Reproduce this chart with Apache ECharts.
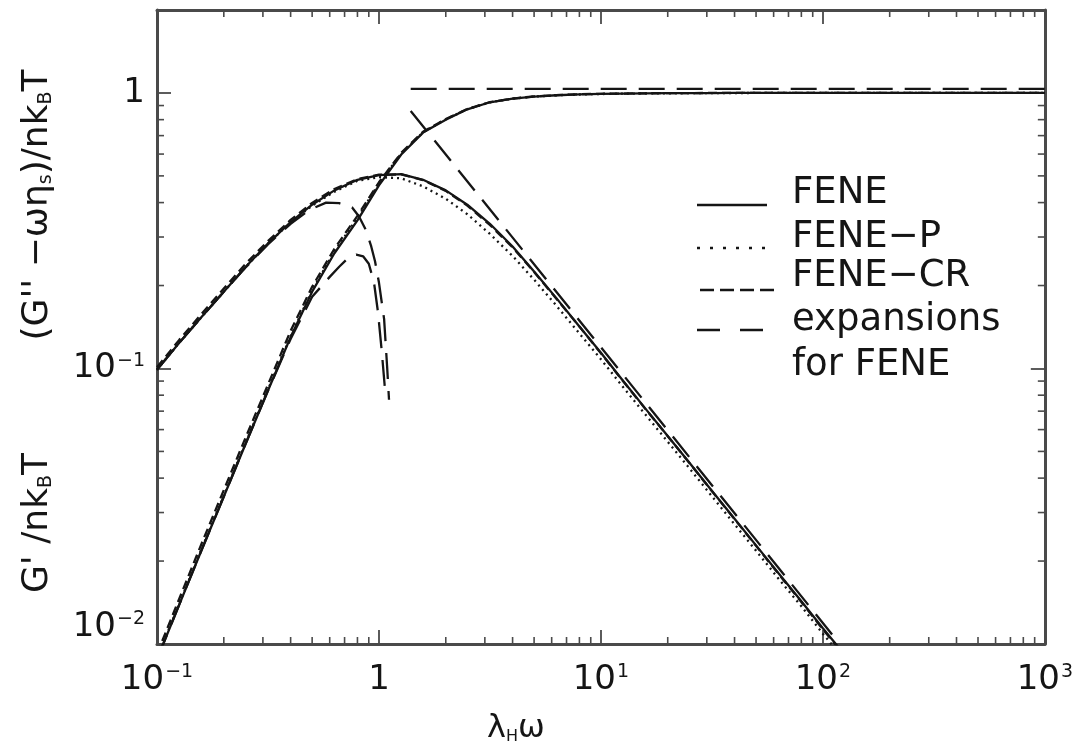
<!DOCTYPE html>
<html>
<head>
<meta charset="utf-8">
<script src="https://cdn.jsdelivr.net/npm/echarts@6/dist/echarts.min.js"></script>
<style>
  html, body { margin: 0; padding: 0; background: #fff; }
  #chart { width: 1076px; height: 749px; }
</style>
</head>
<body>
<div id="chart"></div>
<script>
// Reduced frequency λ_H ω shared by the model curves
const freq = [0.1, 0.126, 0.158, 0.2, 0.25, 0.316, 0.4, 0.5, 0.63, 0.8, 1, 1.26, 1.58, 2, 2.5, 3.16, 4, 5, 6.3, 8,
              10, 12.6, 15.8, 20, 25, 31.6, 40, 50, 63, 80, 100, 126, 158, 200, 316, 500, 1000];

// Storage modulus G'/nkT
const gpFENE   = [0.0088, 0.0139, 0.0217, 0.0343, 0.053, 0.083, 0.13, 0.19, 0.262, 0.345, 0.462, 0.598, 0.718, 0.8, 0.872, 0.925, 0.953, 0.97, 0.981, 0.988,
                  0.992, 0.995, 0.997, 0.998, 0.999, 0.999, 1, 1, 1, 1, 1, 1, 1, 1, 1, 1, 1];
const gpFENEP  = [0.0089, 0.014, 0.0219, 0.0346, 0.0535, 0.0838, 0.131, 0.192, 0.266, 0.352, 0.47, 0.603, 0.72, 0.802, 0.873, 0.925, 0.953, 0.97, 0.98, 0.987,
                  0.991, 0.994, 0.996, 0.997, 0.998, 0.999, 0.999, 1, 1, 1, 1, 1, 1, 1, 1, 1, 1];
const gpFENECR = [0.0092, 0.0146, 0.0229, 0.0362, 0.0558, 0.0872, 0.137, 0.198, 0.272, 0.358, 0.474, 0.606, 0.723, 0.804, 0.874, 0.926, 0.954, 0.971, 0.982, 0.989,
                  0.993, 0.995, 0.997, 0.998, 0.999, 1, 1, 1, 1, 1, 1, 1, 1, 1, 1, 1, 1];

// Loss modulus (G'' - ω η_s)/nkT
const gppFENE   = [0.099, 0.124, 0.153, 0.19, 0.233, 0.284, 0.34, 0.393, 0.443, 0.484, 0.503, 0.507, 0.484, 0.443, 0.393, 0.335, 0.277, 0.225, 0.18, 0.142,
                   0.114, 0.09, 0.0718, 0.0569, 0.0456, 0.036, 0.0285, 0.0228, 0.0181, 0.0143, 0.0114, 0.0091, 0.0072];
const gppFENEP  = [0.099, 0.124, 0.153, 0.19, 0.233, 0.284, 0.339, 0.39, 0.438, 0.48, 0.495, 0.49, 0.458, 0.413, 0.363, 0.308, 0.256, 0.21, 0.169, 0.134,
                   0.108, 0.0855, 0.0683, 0.0542, 0.0435, 0.0344, 0.0272, 0.0218, 0.0173, 0.0137, 0.0109, 0.0087, 0.0069];
const gppFENECR = [0.101, 0.127, 0.157, 0.195, 0.239, 0.29, 0.346, 0.399, 0.448, 0.487, 0.505, 0.506, 0.483, 0.441, 0.39, 0.332, 0.275, 0.224, 0.179, 0.142,
                   0.1135, 0.0898, 0.0716, 0.0568, 0.0455, 0.0359, 0.0284, 0.0227, 0.018, 0.0142, 0.0113, 0.009, 0.0071];

// Low- and high-frequency expansions for FENE
const expGpLowX  = [0.1, 0.126, 0.158, 0.2, 0.25, 0.316, 0.4, 0.5, 0.6, 0.662, 0.72, 0.79, 0.85, 0.9, 0.95, 0.99, 1.03, 1.07];
const expGpLowY  = [0.0088, 0.0139, 0.0217, 0.0343, 0.053, 0.083, 0.128, 0.182, 0.215, 0.234, 0.25, 0.259, 0.255, 0.24, 0.205, 0.16, 0.115, 0.08];
const expGppLowX = [0.1, 0.126, 0.158, 0.2, 0.25, 0.316, 0.4, 0.485, 0.578, 0.662, 0.757, 0.813, 0.87, 0.92, 0.96, 1.0, 1.055, 1.088, 1.11];
const expGppLowY = [0.099, 0.124, 0.153, 0.19, 0.232, 0.282, 0.335, 0.376, 0.4, 0.398, 0.384, 0.356, 0.32, 0.28, 0.245, 0.205, 0.151, 0.102, 0.077];
const expGpHighX  = [1.39, 1000];
const expGpHighY  = [1.035, 1.035];
const expGppHighX = [1.39, 118];
const expGppHighY = [0.86, 0.0101];

// Axis tick labels
const xTickValues = [0.1, 1, 10, 100, 1000];
const xTickLabels = ['10{sup|−1}', '1', '10{sup|1}', '10{sup|2}', '10{sup|3}'];
const yTickValues = [0.01, 0.1, 1];
const yTickLabels = ['10{sup|−2}', '10{sup|−1}', '1'];

// Minor ticks at 2..9 within each decade
const minorX = [];
for (let d = -1; d < 3; d++) for (let m = 2; m <= 9; m++) minorX.push(m * Math.pow(10, d));
const minorY = [];
for (let d = -2; d < 0; d++) for (let m = 2; m <= 9; m++) minorY.push(m * Math.pow(10, d));

function pairs(xArr, yArr) {
  const out = [];
  for (let i = 0; i < yArr.length; i++) if (yArr[i] != null) out.push([xArr[i], yArr[i]]);
  return out;
}
function labelFor(values, labels) {
  return function (v) {
    for (let i = 0; i < values.length; i++) {
      if (Math.abs(Math.log10(v) - Math.log10(values[i])) < 1e-6) return labels[i];
    }
    return '';
  };
}

const FONT = 'DejaVu Sans';
const INK = '#151515';
const AXIS = '#4a4a4a';

const DOTTED = [2, 4];
const DASHED = [9, 5];
const LONGDASH = [26, 12];

function curve(name, data, dash, width) {
  return {
    name: name, type: 'line', data: data, showSymbol: false, symbol: 'none',
    silent: true, clip: true,
    lineStyle: { color: INK, width: width || 2.3, type: dash || 'solid' }
  };
}

const supStyle = { fontSize: 19, fontFamily: FONT, color: INK, verticalAlign: 'top', padding: [0, 0, 0, 1] };

const chart = echarts.init(document.getElementById('chart'), null, { renderer: 'canvas' });

const tickStyle = { stroke: AXIS, lineWidth: 1.6 };

chart.setOption({
  animation: false,
  backgroundColor: '#ffffff',
  grid: { left: 157, right: 27, top: 10, bottom: 105 },
  xAxis: [
    {
      type: 'log', logBase: 10, min: 0.1, max: 1000, position: 'bottom',
      axisLine: { lineStyle: { color: AXIS, width: 3 } },
      axisTick: { inside: true, length: 14, lineStyle: { color: AXIS, width: 1.8 } },
      splitLine: { show: false },
      axisLabel: {
        margin: 19, fontSize: 34, fontFamily: FONT, color: INK,
        formatter: labelFor(xTickValues, xTickLabels),
        rich: { sup: supStyle }
      }
    },
    {
      type: 'log', logBase: 10, min: 0.1, max: 1000, position: 'top',
      axisLine: { lineStyle: { color: AXIS, width: 3 } },
      axisTick: { inside: true, length: 14, lineStyle: { color: AXIS, width: 1.8 } },
      splitLine: { show: false },
      axisLabel: { show: false }
    }
  ],
  yAxis: [
    {
      type: 'log', logBase: 10, min: 0.01, max: 2, position: 'left',
      axisLine: { lineStyle: { color: AXIS, width: 3 } },
      axisTick: { inside: true, length: 14, lineStyle: { color: AXIS, width: 1.8 } },
      splitLine: { show: false },
      axisLabel: {
        margin: 12, fontSize: 34, fontFamily: FONT, color: INK,
        showMaxLabel: false,
        verticalAlignMinLabel: 'bottom',
        formatter: labelFor(yTickValues, yTickLabels),
        rich: { sup: supStyle }
      }
    },
    {
      type: 'log', logBase: 10, min: 0.01, max: 2, position: 'right',
      axisLine: { lineStyle: { color: AXIS, width: 3 } },
      axisTick: { inside: true, length: 14, lineStyle: { color: AXIS, width: 1.8 } },
      splitLine: { show: false },
      axisLabel: { show: false }
    }
  ],
  series: [
    curve('FENE', pairs(freq, gpFENE)),
    curve('FENE', pairs(freq, gppFENE)),
    curve('FENE-P', pairs(freq, gpFENEP), DOTTED),
    curve('FENE-P', pairs(freq, gppFENEP), DOTTED),
    curve('FENE-CR', pairs(freq, gpFENECR), DASHED),
    curve('FENE-CR', pairs(freq, gppFENECR), DASHED),
    curve('expansions for FENE', pairs(expGpLowX, expGpLowY), LONGDASH),
    curve('expansions for FENE', pairs(expGppLowX, expGppLowY), LONGDASH),
    curve('expansions for FENE', pairs(expGpHighX, expGpHighY), LONGDASH),
    curve('expansions for FENE', pairs(expGppHighX, expGppHighY), LONGDASH),
    {
      type: 'custom', silent: true, z: 5,
      data: minorX.map(v => [v, 1]),
      renderItem: function (params, api) {
        const cs = params.coordSys;
        const px = api.coord([api.value(0), 1])[0];
        const yb = cs.y + cs.height;
        return {
          type: 'group', children: [
            { type: 'line', shape: { x1: px, y1: yb, x2: px, y2: yb - 7 }, style: tickStyle },
            { type: 'line', shape: { x1: px, y1: cs.y, x2: px, y2: cs.y + 7 }, style: tickStyle }
          ]
        };
      }
    },
    {
      type: 'custom', silent: true, z: 5,
      data: minorY.map(v => [1, v]),
      renderItem: function (params, api) {
        const cs = params.coordSys;
        const py = api.coord([1, api.value(1)])[1];
        const xr = cs.x + cs.width;
        return {
          type: 'group', children: [
            { type: 'line', shape: { x1: cs.x, y1: py, x2: cs.x + 7, y2: py }, style: tickStyle },
            { type: 'line', shape: { x1: xr, y1: py, x2: xr - 7, y2: py }, style: tickStyle }
          ]
        };
      }
    }
  ],
  graphic: [
    // axis titles
    {
      type: 'text', x: 38, y: 205, rotation: Math.PI / 2,
      style: {
        text: "(G'' −ωη{sub|s})/nk{sub|B}T",
        font: '36px "DejaVu Sans"', fill: INK, align: 'center', verticalAlign: 'middle',
        rich: { sub: { fontSize: 19, fontFamily: FONT, fill: INK, verticalAlign: 'bottom' } }
      }
    },
    {
      type: 'text', x: 38, y: 523, rotation: Math.PI / 2,
      style: {
        text: "G' /nk{sub|B}T",
        font: '36px "DejaVu Sans"', fill: INK, align: 'center', verticalAlign: 'middle',
        rich: { sub: { fontSize: 19, fontFamily: FONT, fill: INK, verticalAlign: 'bottom' } }
      }
    },
    {
      type: 'text', x: 516, y: 729,
      style: {
        text: 'λ{sub|H}ω',
        font: '32px "DejaVu Sans"', fill: INK, align: 'center', verticalAlign: 'middle',
        rich: { sub: { fontSize: 16, fontFamily: FONT, fill: INK, verticalAlign: 'bottom' } }
      }
    },
    // legend
    { type: 'line', shape: { x1: 697, y1: 205, x2: 767, y2: 205 }, style: { stroke: INK, lineWidth: 2.3 } },
    { type: 'line', shape: { x1: 697, y1: 248, x2: 767, y2: 248 }, style: { stroke: INK, lineWidth: 2.5, lineDash: [3, 10] } },
    { type: 'line', shape: { x1: 700, y1: 290, x2: 777, y2: 290 }, style: { stroke: INK, lineWidth: 2.3, lineDash: [14, 6] } },
    { type: 'line', shape: { x1: 697, y1: 330, x2: 765, y2: 330 }, style: { stroke: INK, lineWidth: 2.3, lineDash: [23, 20] } },
    { type: 'text', x: 792, y: 193, style: { text: 'FENE', font: '37px "DejaVu Sans"', fill: INK, align: 'left', verticalAlign: 'middle' } },
    { type: 'text', x: 792, y: 237, style: { text: 'FENE−P', font: '37px "DejaVu Sans"', fill: INK, align: 'left', verticalAlign: 'middle' } },
    { type: 'text', x: 792, y: 276, style: { text: 'FENE−CR', font: '37px "DejaVu Sans"', fill: INK, align: 'left', verticalAlign: 'middle' } },
    { type: 'text', x: 792, y: 320, style: { text: 'expansions', font: '37px "DejaVu Sans"', fill: INK, align: 'left', verticalAlign: 'middle' } },
    { type: 'text', x: 792, y: 365, style: { text: 'for FENE', font: '37px "DejaVu Sans"', fill: INK, align: 'left', verticalAlign: 'middle' } }
  ]
});
</script>
</body>
</html>
